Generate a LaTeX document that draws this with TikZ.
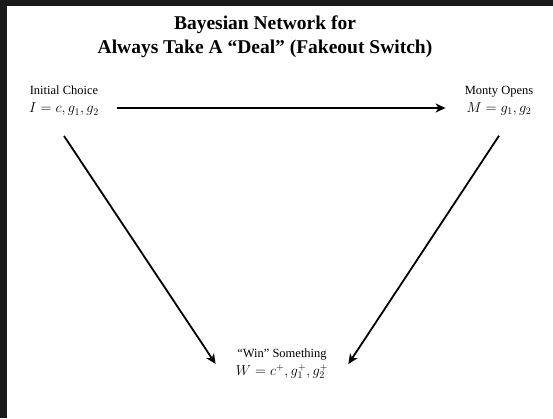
\documentclass[tikz,border=0pt]{standalone}
\usepackage{fontspec}
\setmainfont{Liberation Serif}
\usetikzlibrary{arrows.meta}
\definecolor{framegray}{HTML}{1A1A1A}
\newcommand{\val}[1]{{\fontsize{14.5}{18}\selectfont$#1$}}

\begin{document}
\begin{tikzpicture}[
    x=1pt, y=-1pt,
    title/.style={
        align=center,
        font=\fontsize{19.5}{24}\selectfont\bfseries  % Big bold heading
    },
    var/.style={
        align=center,
        inner sep=3pt,
        font=\fontsize{12.5}{18}\selectfont     % Name on top, values below
    },
    link/.style={
        line width=1.8pt,
        -{Stealth[length=10pt,width=9pt,inset=3pt]}
    }
]
\useasboundingbox (0,0) rectangle (553,418);
% dark frame on top and left
\fill[framegray] (0,0) rectangle (553,6);
\fill[framegray] (0,0) rectangle (7,418);

\node[title] (head) at (265,37) {Bayesian Network for\\Always Take A ``Deal'' (Fakeout Switch)};

\node[var] (I) at (64,101) {Initial Choice\\\val{I = c, g_1, g_2}};
\node[var] (M) at (499,101) {Monty Opens\\\val{M = g_1, g_2}};
\node[var] (W) at (282,364) {``Win'' Something\\\val{W = c^+, g_1^+, g_2^+}};

% edges of the network
\draw[link, shorten <=15pt, shorten >=16pt] ([yshift=-7pt]I.east) -- ([yshift=-7pt]M.west);
\draw[link] ([yshift=-17pt]I.south) -- ([xshift=-17pt]W.west);
\draw[link] ([yshift=-17pt]M.south) -- ([xshift=17pt]W.east);
\end{tikzpicture}
\end{document}
